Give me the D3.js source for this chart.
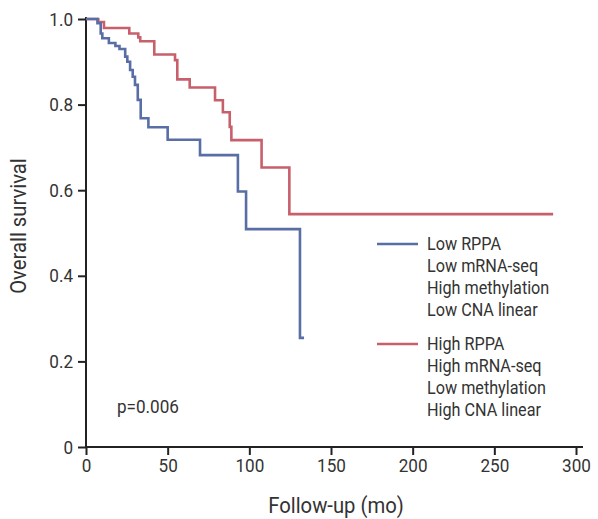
<!DOCTYPE html>
<html>
<head>
<meta charset="utf-8">
<script src="https://cdn.jsdelivr.net/npm/d3@7"></script>
<style>
  body { margin: 0; background: #fff; }
  svg text { font-family: "Roboto", "Liberation Sans", sans-serif; fill: #333; }
</style>
</head>
<body>
<svg id="chart" width="598" height="519"></svg>
<script>
// survival steps (time in months, survival)
var lowTimes = [0, 7, 9, 10, 14, 18, 20.5, 24, 25.3, 27, 28.6, 30, 31.7, 33.5, 38.2, 50, 69.8, 93, 98, 131, 133.5];
var lowSurv  = [1.0, 0.99, 0.966, 0.955, 0.944, 0.937, 0.93, 0.912, 0.9, 0.881, 0.865, 0.846, 0.811, 0.768, 0.747, 0.718, 0.682, 0.597, 0.509, 0.255, 0.255];

var highTimes = [0, 7.5, 11, 26.5, 32, 33.2, 41.8, 54.5, 55.9, 63.5, 79, 83.8, 88, 89, 107.5, 124.5, 286];
var highSurv  = [1.0, 0.993, 0.979, 0.966, 0.957, 0.948, 0.917, 0.904, 0.859, 0.84, 0.81, 0.782, 0.748, 0.717, 0.653, 0.544, 0.544];

var xTicks = [0, 50, 100, 150, 200, 250, 300];
var yTicks = [0, 0.2, 0.4, 0.6, 0.8, 1.0];

var lowLabels  = ["Low RPPA", "Low mRNA-seq", "High methylation", "Low CNA linear"];
var highLabels = ["High RPPA", "High mRNA-seq", "Low methylation", "High CNA linear"];
var pText = "p=0.006";

var blue = "#5a6ea6", red = "#c8606c";
var squeeze = 0.9; // reference font is a condensed face

var svg = d3.select("#chart");

var x = d3.scaleLinear().domain([0, 300]).range([86, 576]);
var y = d3.scaleLinear().domain([0, 1]).range([447, 19]);

// narrow text helper
function label(px, py, str, size, anchor, rot) {
  return svg.append("text")
    .attr("transform", "translate(" + px + "," + py + ")" + (rot ? " rotate(" + rot + ")" : "") + " scale(" + squeeze + ",1)")
    .attr("text-anchor", anchor || "start")
    .style("font-size", size + "px")
    .text(str);
}

// axes
var xAxis = svg.append("g")
  .attr("transform", "translate(0,447)")
  .call(d3.axisBottom(x).tickValues(xTicks).tickSize(8).tickPadding(4).tickFormat(d3.format("d")));
var yAxis = svg.append("g")
  .attr("transform", "translate(86,0)")
  .call(d3.axisLeft(y).tickValues(yTicks).tickSize(8).tickPadding(4)
    .tickFormat(function(d) { return d === 0 ? "0" : d3.format(".1f")(d); }));

[xAxis, yAxis].forEach(function(a) {
  a.selectAll("path").remove();
  a.selectAll("line").attr("stroke", "#222").attr("stroke-width", 2);
  a.selectAll("text").style("font-size", "19px").attr("fill", "#333")
    .attr("transform", "scale(" + squeeze + ",1)");
});
yAxis.selectAll("text").attr("x", -13 / squeeze);

// axis lines
svg.append("line").attr("x1", 86).attr("x2", 583).attr("y1", 447).attr("y2", 447)
  .attr("stroke", "#222").attr("stroke-width", 2);
svg.append("line").attr("x1", 86).attr("x2", 86).attr("y1", 17).attr("y2", 447)
  .attr("stroke", "#222").attr("stroke-width", 2);

// axis titles
label(336, 513, "Follow-up (mo)", 22.5, "middle");
label(26, 226, "Overall survival", 22.5, "middle", -90);

// curves
var line = d3.line()
  .x(function(d) { return x(d[0]); })
  .y(function(d) { return y(d[1]); })
  .curve(d3.curveStepAfter);

svg.append("path")
  .datum(d3.zip(highTimes, highSurv))
  .attr("fill", "none").attr("stroke", red).attr("stroke-width", 2.6)
  .attr("d", line);
svg.append("path")
  .datum(d3.zip(lowTimes, lowSurv))
  .attr("fill", "none").attr("stroke", blue).attr("stroke-width", 2.6)
  .attr("d", line);

// legend
function legend(labels, color, top) {
  svg.append("line").attr("x1", 377).attr("x2", 418).attr("y1", top).attr("y2", top)
    .attr("stroke", color).attr("stroke-width", 2.6);
  labels.forEach(function(d, i) {
    label(427, top + 6 + i * 22, d, 18);
  });
}
legend(lowLabels, blue, 244);
legend(highLabels, red, 344);

label(117, 413, pText, 19);
</script>
</body>
</html>
